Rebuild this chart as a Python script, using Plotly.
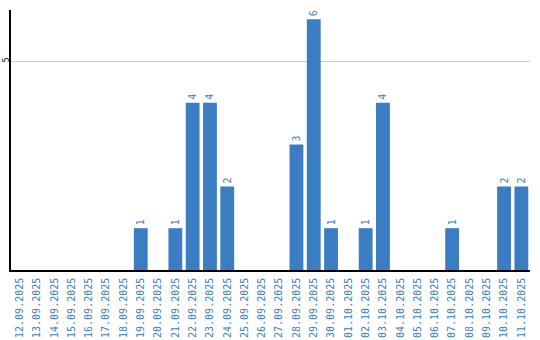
import plotly.graph_objects as go

dates = ["12.09.2025","13.09.2025","14.09.2025","15.09.2025","16.09.2025","17.09.2025","18.09.2025",
         "19.09.2025","20.09.2025","21.09.2025","22.09.2025","23.09.2025","24.09.2025","25.09.2025",
         "26.09.2025","27.09.2025","28.09.2025","29.09.2025","30.09.2025","01.10.2025","02.10.2025",
         "03.10.2025","04.10.2025","05.10.2025","06.10.2025","07.10.2025","08.10.2025","09.10.2025",
         "10.10.2025","11.10.2025"]
values = [0,0,0,0,0,0,0,1,0,1,4,4,2,0,0,0,3,6,1,0,1,4,0,0,0,1,0,0,2,2]
labels = [str(v) if v else "" for v in values]
y_ticks = [5]

blue = "#3a7dc2"
fig = go.Figure(go.Bar(
    x=dates, y=values, marker_color=blue, marker_line_width=0,
    text=labels, textposition="outside", textangle=-90,
    textfont=dict(family="DejaVu Sans Mono", size=10, color=blue),
    cliponaxis=False, width=0.8,
))
fig.update_layout(
    width=540, height=340, margin=dict(l=11, r=10, t=10, b=70),
    paper_bgcolor="white", plot_bgcolor="white", showlegend=False,
    bargap=0.2,
)
fig.update_xaxes(type="category", tickangle=-90, showline=True, linecolor="black", linewidth=1.5,
                 tickfont=dict(family="DejaVu Sans Mono", size=10, color=blue), ticks="",
                 showgrid=False, automargin=False, ticklabelstandoff=2)
fig.update_yaxes(range=[0, 6.22], tickvals=y_ticks, showline=True, linecolor="black", linewidth=1.5,
                 showgrid=True, gridcolor="#cccccc", gridwidth=1, zeroline=False, tickangle=-90,
                 tickfont=dict(family="DejaVu Sans Mono", size=8, color="black"), ticks="",
                 automargin=False, ticklabelstandoff=-3)
fig.write_html("out.html")
